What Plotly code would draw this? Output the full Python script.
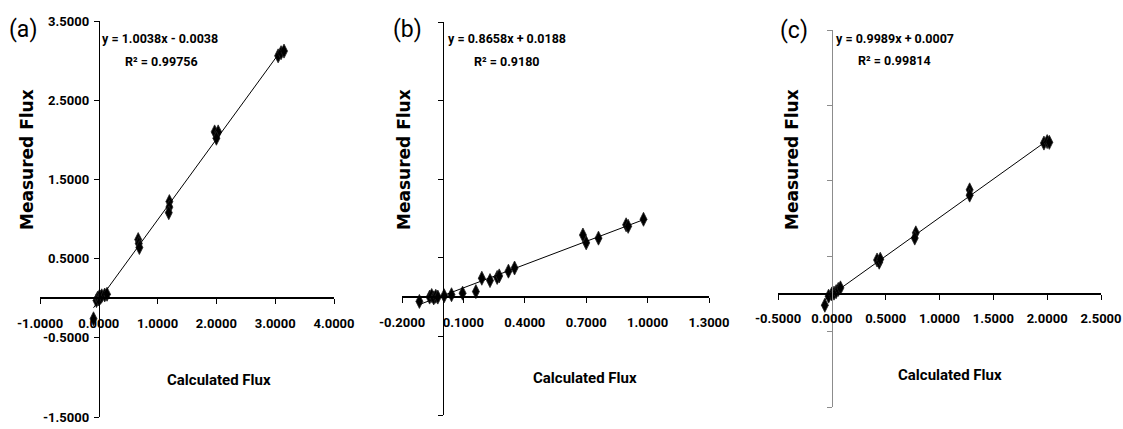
import numpy as np
import plotly.graph_objects as go

# ---------------- data ----------------
a_x = [-0.09, -0.04, -0.02, 0.00, 0.01, 0.03, 0.05, 0.10, 0.14,
       0.67, 0.68, 0.69, 1.20, 1.20, 1.19, 1.97, 2.03, 2.00, 3.05, 3.10, 3.15]
a_y = [-0.26, -0.03, 0.00, -0.01, 0.02, 0.01, 0.03, 0.04, 0.05,
       0.74, 0.69, 0.64, 1.22, 1.15, 1.08, 2.10, 2.10, 2.02, 3.06, 3.10, 3.12]

b_x = [-0.115, -0.065, -0.055, -0.045, -0.035, -0.025, 0.006, 0.042, 0.096, 0.161,
       0.19, 0.23, 0.265, 0.275, 0.32, 0.35, 0.684, 0.70, 0.76, 0.895, 0.905, 0.98]
b_y = [-0.055, 0.00, 0.02, -0.01, 0.01, 0.00, 0.017, 0.03, 0.05, 0.07,
       0.24, 0.21, 0.25, 0.27, 0.33, 0.37, 0.79, 0.69, 0.75, 0.92, 0.90, 0.99]

c_x = [-0.065, -0.03, 0.00, 0.02, 0.04, 0.06, 0.08, 0.42, 0.44, 0.45,
       0.78, 0.77, 1.28, 1.28, 1.97, 2.00, 2.02]
c_y = [-0.15, -0.03, 0.00, 0.01, 0.03, 0.06, 0.08, 0.45, 0.42, 0.46,
       0.81, 0.74, 1.38, 1.31, 2.00, 2.02, 2.01]

panel_labels = ["(a)", "(b)", "(c)"]
eq_texts = ["y = 1.0038x - 0.0038", "y = 0.8658x + 0.0188", "y = 0.9989x + 0.0007"]
r2_texts = ["R² = 0.99756", "R² = 0.9180", "R² = 0.99814"]
x_titles = ["Calculated Flux", "Calculated Flux", "Calculated Flux"]
y_titles = ["Measured Flux", "Measured Flux", "Measured Flux"]

a_xticks = [-1.0, 0.0, 1.0, 2.0, 3.0, 4.0]
b_xticks = [-0.2, 0.1, 0.4, 0.7, 1.0, 1.3]
c_xticks = [-0.5, 0.0, 0.5, 1.0, 1.5, 2.0, 2.5]
y_ticks = [-1.5, -0.5, 0.5, 1.5, 2.5, 3.5]

# ---------------- layout geometry (pixels) ----------------
W, H = 1123, 429
NARROW = "Roboto, DejaVu Sans Condensed, sans-serif"
WIDE = "DejaVu Sans, Verdana, sans-serif"

panels = [
    dict(x=a_x, y=a_y, xt=a_xticks, px=(40, 334), py=(21, 417), ylab=True, ycol="black",
         eq=(160, 38), r2=(161, 62), lab=(23, 30), yt=(27, 160), xti=(219, 380)),
    dict(x=b_x, y=b_y, xt=b_xticks, px=(402, 709), py=(22, 415), ylab=False, ycol="black",
         eq=(507, 38), r2=(507, 62), lab=(407, 30), yt=(404, 160), xti=(585, 378)),
    dict(x=c_x, y=c_y, xt=c_xticks, px=(778, 1101), py=(30, 407), ylab=False, ycol="#8c8c8c",
         eq=(895, 38), r2=(894, 61), lab=(794, 31), yt=(792, 160), xti=(950, 375)),
]

fig = go.Figure()
annotations = []


def fx(p):
    return p / W


def fy(p):
    return 1 - p / H


TICKFONT = dict(family=NARROW, size=13, color="black", weight="bold")

for i, p in enumerate(panels):
    n = "" if i == 0 else str(i + 1)
    xr = [p["xt"][0], p["xt"][-1]]
    yr = [y_ticks[0], y_ticks[-1]]
    dx = [fx(p["px"][0]), fx(p["px"][1])]
    dy = [fy(p["py"][1]), fy(p["py"][0])]
    xzero = dx[0] + (0 - xr[0]) / (xr[1] - xr[0]) * (dx[1] - dx[0])
    yzero = dy[0] + (0 - yr[0]) / (yr[1] - yr[0]) * (dy[1] - dy[0])

    # points
    fig.add_trace(go.Scatter(
        x=p["x"], y=p["y"], mode="markers", xaxis="x" + n, yaxis="y" + n,
        marker=dict(symbol="diamond-tall", size=10, color="black",
                    line=dict(width=0.8, color="#222")),
        showlegend=False, hoverinfo="skip"))
    # linear trendline fitted to the data
    slope, icpt = np.polyfit(p["x"], p["y"], 1)
    lx = np.array([min(p["x"]), max(p["x"])])
    fig.add_trace(go.Scatter(
        x=lx, y=slope * lx + icpt, mode="lines", xaxis="x" + n, yaxis="y" + n,
        line=dict(color="black", width=1), showlegend=False, hoverinfo="skip"))

    fig.layout["xaxis" + n] = dict(
        domain=dx, range=xr, anchor="free", position=yzero, automargin=False,
        showline=True, linecolor="black", linewidth=1.6,
        ticks="outside", ticklen=5, tickwidth=1, tickcolor="black",
        tickvals=p["xt"], ticktext=[f"{v:.4f}" for v in p["xt"]],
        tickfont=TICKFONT, ticklabelstandoff=8, ticklabeloverflow="allow",
        showgrid=False, zeroline=False, fixedrange=True)
    fig.layout["yaxis" + n] = dict(
        domain=dy, range=yr, anchor="free", position=xzero, automargin=False,
        showline=True, linecolor=p["ycol"], linewidth=1,
        ticks="outside", ticklen=5, tickwidth=1, tickcolor=p["ycol"],
        tickvals=y_ticks, ticktext=[f"{v:.4f}" for v in y_ticks],
        showticklabels=p["ylab"], tickfont=TICKFONT,
        ticklabelstandoff=2, ticklabeloverflow="allow",
        showgrid=False, zeroline=False, fixedrange=True)

    annotations += [
        dict(text=panel_labels[i], x=fx(p["lab"][0]), y=fy(p["lab"][1]),
             font=dict(family=NARROW, size=23, color="black")),
        dict(text=eq_texts[i], x=fx(p["eq"][0]), y=fy(p["eq"][1]),
             font=dict(family=NARROW, size=12.5, color="black", weight="bold")),
        dict(text=r2_texts[i], x=fx(p["r2"][0]), y=fy(p["r2"][1]),
             font=dict(family=NARROW, size=12.5, color="black", weight="bold")),
        dict(text=y_titles[i], x=fx(p["yt"][0]), y=fy(p["yt"][1]), textangle=-90,
             font=dict(family=WIDE, size=17, color="black", weight="bold")),
        dict(text=x_titles[i], x=fx(p["xti"][0]), y=fy(p["xti"][1]),
             font=dict(family=NARROW, size=15, color="black", weight="bold")),
    ]

for a in annotations:
    a.update(xref="paper", yref="paper", showarrow=False,
             xanchor="center", yanchor="middle")

fig.update_layout(
    width=W, height=H, margin=dict(l=0, r=0, t=0, b=0),
    paper_bgcolor="white", plot_bgcolor="white",
    annotations=annotations, showlegend=False)

fig.write_html("out.html")
